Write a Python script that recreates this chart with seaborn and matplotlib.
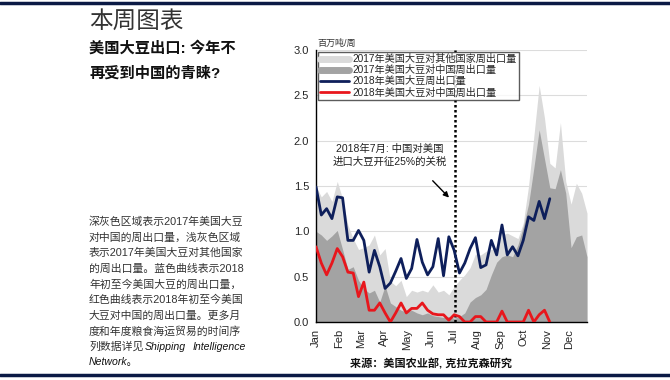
import matplotlib
matplotlib.use('Agg')
import matplotlib.pyplot as plt
from matplotlib.lines import Line2D
import seaborn as sns

# 2017 weekly exports (light grey = all destinations, dark grey = China), mln t
weeks_2017 = list(range(52))
all_2017 = [1.50, 1.38, 1.44, 1.33, 1.55, 1.36, 1.07, 0.92, 0.80, 0.82,
            0.85, 0.96, 0.74, 0.81, 0.45, 0.40, 0.46, 0.28, 0.35, 0.33,
            0.35, 0.33, 0.41, 0.33, 0.35, 0.30, 0.39, 0.46, 0.52, 0.60,
            0.75, 0.74, 0.78, 0.80, 0.83, 0.96, 0.98, 0.95, 0.92, 1.09,
            1.50, 2.05, 2.61, 2.25, 1.75, 1.70, 2.20, 1.55, 1.30, 1.53,
            1.42, 1.20]
china_2017 = [1.00, 0.96, 0.90, 0.95, 1.01, 0.80, 0.58, 0.61, 0.46, 0.37,
              0.32, 0.35, 0.22, 0.40, 0.21, 0.17, 0.13, 0.11, 0.13, 0.10,
              0.08, 0.10, 0.07, 0.06, 0.05, 0.06, 0.04, 0.06, 0.10, 0.22,
              0.27, 0.30, 0.36, 0.52, 0.66, 0.72, 0.74, 0.72, 0.85, 1.05,
              1.30, 1.70, 2.12, 1.80, 1.48, 1.47, 1.68, 1.42, 0.82, 0.94,
              0.96, 0.72]

# 2018 weekly exports so far
weeks_2018 = list(range(45))
total_2018 = [1.49, 1.18, 1.25, 1.14, 1.38, 1.37, 0.90, 0.90, 1.01, 0.90,
              0.55, 0.79, 0.61, 0.37, 0.43, 0.56, 0.70, 0.48, 0.59, 0.91,
              0.66, 0.52, 0.61, 0.92, 0.51, 0.94, 0.79, 0.54, 0.65, 0.81,
              0.93, 0.60, 0.63, 0.90, 0.74, 1.07, 0.74, 0.83, 0.73, 0.90,
              1.16, 1.12, 1.33, 1.14, 1.36]
china_2018 = [0.83, 0.65, 0.52, 0.65, 0.81, 0.72, 0.55, 0.54, 0.28, 0.44,
              0.13, 0.13, 0.21, 0.10, 0.00, 0.10, 0.21, 0.10, 0.15, 0.15,
              0.21, 0.13, 0.09, 0.08, 0.08, 0.02, 0.08, 0.06, 0.00, 0.00,
              0.06, 0.06, 0.00, 0.00, 0.00, 0.12, 0.00, 0.00, 0.00, 0.00,
              0.13, 0.00, 0.08, 0.13, 0.00]

month_pos = [0, 4.43, 8.43, 12.86, 17.14, 21.57, 25.86, 30.29, 34.71, 39.0, 43.43, 47.71]
month_labels = ['Jan', 'Feb', 'Mar', 'Apr', 'May', 'Jun',
                'Jul', 'Aug', 'Sep', 'Oct', 'Nov', 'Dec']
y_ticks = [0.0, 0.5, 1.0, 1.5, 2.0, 2.5, 3.0]
tariff_week = 26.1

legend_labels = ['2017年美国大豆对其他国家周出口量',
                 '2017年美国大豆对中国周出口量',
                 '2018年美国大豆周出口量',
                 '2018年美国大豆对中国周出口量']

sns.set_style('white')
plt.rcParams['font.family'] = ['Liberation Sans', 'Noto Sans CJK SC']

LIGHT = '#dadada'
DARK = '#a3a3a3'
NAVY = '#0e1f5b'
RED = '#e8161c'

fig = plt.figure(figsize=(6.7, 3.8), dpi=100)
W, H = 670, 380
ax = fig.add_axes([316 / W, 58 / H, 271 / W, 272 / H])

# areas for 2017
ax.fill_between(weeks_2017, 0, all_2017, color=LIGHT, lw=0, zorder=1)
ax.fill_between(weeks_2017, 0, china_2017, color=DARK, lw=0, zorder=2)

# 2018 lines
sns.lineplot(x=weeks_2018, y=total_2018, ax=ax, color=NAVY, lw=2.0, zorder=4)
sns.lineplot(x=weeks_2018, y=china_2018, ax=ax, color=RED, lw=2.0, zorder=4)

ax.axvline(tariff_week, color='black', lw=1.8, ls=(0, (1, 1)), zorder=3)

ax.set_xlim(0, 51)
ax.set_ylim(0, 3.0)
ax.set_yticks(y_ticks)
ax.set_yticklabels([f'{v:.1f}' for v in y_ticks], fontsize=8)
ax.set_xticks(month_pos)
ax.set_xticklabels(month_labels, rotation=90, fontsize=8)
ax.tick_params(length=0, pad=5)
ax.yaxis.grid(True, color='#dcdcdc', lw=0.8)
ax.set_axisbelow(True)
for s in ['top', 'right']:
    ax.spines[s].set_visible(False)
for s in ['left', 'bottom']:
    ax.spines[s].set_color('black')
    ax.spines[s].set_linewidth(1.0)

ax.text(0.005, 1.008, '百万吨/周', transform=ax.transAxes, fontsize=6.5,
        va='bottom', ha='left', color='#333333')

# annotation
ax.text(13.8, 1.84, '2018年7月: 中国对美国\n进口大豆开征25%的关税',
        ha='center', va='center', fontsize=7.5, linespacing=1.35, color='#222222', zorder=5)
ax.annotate('', xy=(25.4, 1.35), xytext=(21.6, 1.58),
            arrowprops=dict(arrowstyle='-|>', color='black', lw=1.0,
                            mutation_scale=8), zorder=5)

handles = [Line2D([], [], color=LIGHT, lw=5),
           Line2D([], [], color=DARK, lw=5),
           Line2D([], [], color=NAVY, lw=2),
           Line2D([], [], color=RED, lw=2)]
leg = ax.legend(handles, legend_labels, loc='upper left', bbox_to_anchor=(0, 1),
                fontsize=7.3, frameon=True, fancybox=False, borderaxespad=0.15,
                handlelength=2.9, handletextpad=0.3, labelspacing=0.1,
                borderpad=0.25)
leg.get_frame().set_edgecolor('#333333')
leg.get_frame().set_linewidth(1.0)
leg.set_zorder(10)

# left-hand text block
def fx(px):
    return px / W

def fy(py):
    return 1 - py / H

fig.text(fx(89), fy(22), '本周图表', fontsize=17, fontweight='light',
         va='center', ha='left', color='#333333')
fig.text(fx(89), fy(48), '美国大豆出口: 今年不', fontsize=11, fontweight='bold',
         va='center', ha='left', color='#111111')
fig.text(fx(89), fy(73), '再受到中国的青睐?', fontsize=11, fontweight='bold',
         va='center', ha='left', color='#111111')

body_lines = ['深灰色区域表示2017年美国大豆',
              '对中国的周出口量，浅灰色区域',
              '表示2017年美国大豆对其他国家',
              '的周出口量。蓝色曲线表示2018',
              '年初至今美国大豆的周出口量，',
              '红色曲线表示2018年初至今美国',
              '大豆对中国的周出口量。更多月',
              '度和年度粮食海运贸易的时间序',
              '列数据详见']
for i, line in enumerate(body_lines):
    fig.text(fx(89), fy(222 + i * 15.6), line, fontsize=7.8, va='center',
             ha='left', color='#333333')
fig.text(fx(145), fy(222 + 8 * 15.6), 'Shipping', fontsize=7.6, va='center',
         ha='left', style='italic', color='#111111')
fig.text(fx(246), fy(222 + 8 * 15.6), 'Intelligence', fontsize=7.6, va='center',
         ha='right', style='italic', color='#111111')
fig.text(fx(89), fy(222 + 9 * 15.6), 'Network。', fontsize=7.6, va='center',
         ha='left', style='italic', color='#111111')

fig.text(fx(431), fy(364), '来源：美国农业部, 克拉克森研究', fontsize=8,
         fontweight='bold', va='center', ha='center', color='#111111')

# navy rules top and bottom
fig.add_artist(Line2D([0, 1], [fy(3), fy(3)], color='#0b1a45', lw=2.5))
fig.add_artist(Line2D([0, 1], [fy(375), fy(375)], color='#0b1a45', lw=2.5))

fig.savefig('out.png', dpi=100)
